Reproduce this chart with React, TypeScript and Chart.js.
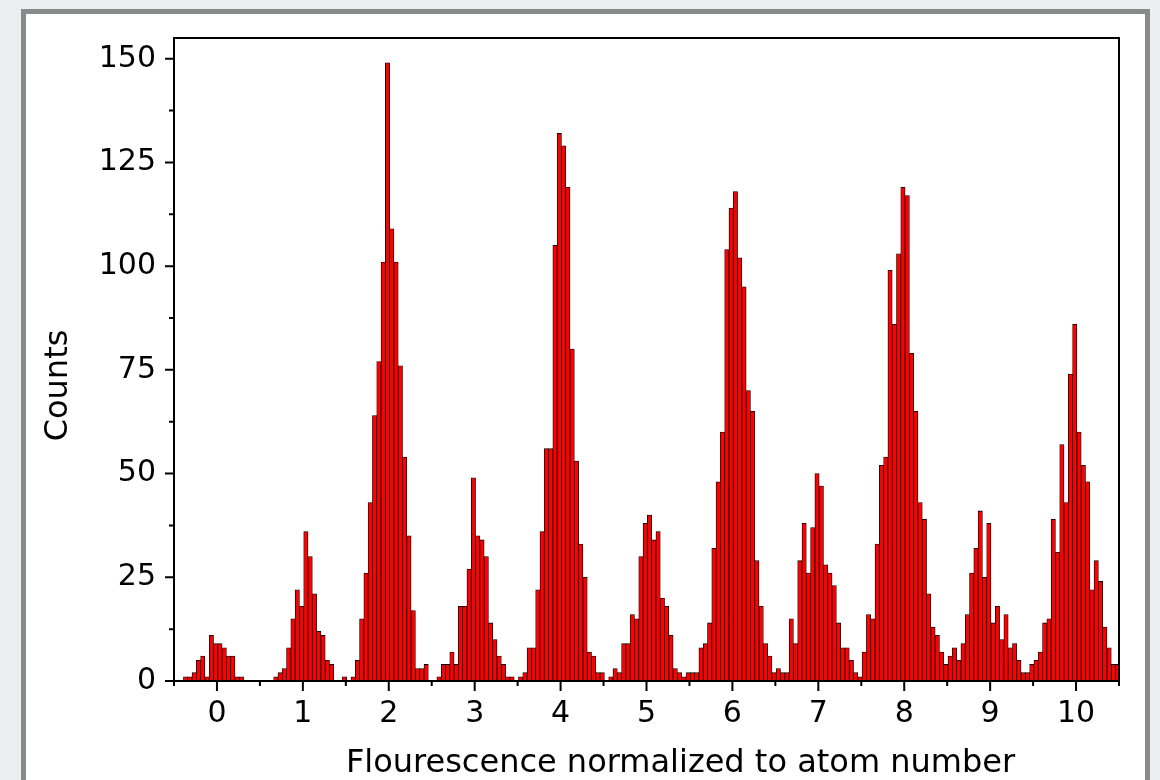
import React, { useEffect, useRef } from 'react';
import { Chart, registerables } from 'chart.js';

Chart.register(...registerables);

// Histogram bins: 0.05 wide, first bin starts near -0.5
const BIN_START = -0.49;
const BIN_WIDTH = 0.05;

// Counts per bin, grouped by the unit interval around each integer (20 bins each)
const countsNear0 = [0, 0, 1, 1, 2, 5, 6, 1, 11, 9, 9, 8, 6, 6, 1, 1, 0, 0, 0, 0];
const countsNear1 = [0, 0, 0, 1, 2, 3, 8, 15, 22, 18, 36, 30, 21, 12, 11, 5, 4, 0, 0, 1];
const countsNear2 = [0, 1, 5, 15, 26, 43, 64, 77, 101, 149, 109, 101, 76, 54, 35, 17, 3, 3, 4, 0];
const countsNear3 = [0, 1, 4, 4, 7, 4, 18, 18, 27, 49, 35, 34, 30, 14, 10, 6, 4, 1, 1, 0];
const countsNear4 = [1, 2, 8, 8, 22, 36, 56, 56, 105, 132, 129, 119, 80, 53, 33, 25, 7, 6, 2, 2];
const countsNear5 = [0, 1, 3, 2, 9, 9, 16, 15, 30, 38, 40, 34, 36, 20, 18, 11, 3, 2, 1, 2];
const countsNear6 = [2, 2, 8, 9, 14, 32, 48, 60, 104, 114, 118, 102, 95, 70, 65, 29, 18, 9, 6, 2];
const countsNear7 = [3, 2, 2, 15, 9, 29, 38, 26, 37, 50, 47, 28, 26, 23, 14, 8, 8, 5, 2, 1];
const countsNear8 = [7, 16, 15, 33, 52, 54, 99, 86, 103, 119, 117, 79, 65, 43, 39, 21, 13, 11, 7, 4];
const countsNear9 = [6, 8, 5, 9, 16, 26, 32, 41, 25, 38, 14, 18, 10, 16, 8, 9, 5, 2, 2, 4];
const countsNear10 = [5, 7, 14, 15, 39, 31, 57, 43, 74, 86, 60, 52, 48, 22, 29, 24, 13, 8, 4, 4];

const X_MIN = -0.5;
const X_MAX = 10.5;
const Y_MIN = 0;
const Y_MAX = 155;

const xTickValues = [0, 1, 2, 3, 4, 5, 6, 7, 8, 9, 10];
const xMinorTickValues = [-0.5, 0.5, 1.5, 2.5, 3.5, 4.5, 5.5, 6.5, 7.5, 8.5, 9.5, 10.5];
const yTickValues = [0, 25, 50, 75, 100, 125, 150];
const yMinorTickValues = [12.5, 37.5, 62.5, 87.5, 112.5, 137.5];

const xAxisTitle = 'Flourescence normalized to atom number';
const yAxisTitle = 'Counts';

const FONT = '"DejaVu Sans", "Liberation Sans", Arial, sans-serif';

const allCounts = [
  ...countsNear0, ...countsNear1, ...countsNear2, ...countsNear3, ...countsNear4, ...countsNear5,
  ...countsNear6, ...countsNear7, ...countsNear8, ...countsNear9, ...countsNear10,
];

const originAxesPlugin = {
  id: 'originAxes',
  afterDatasetsDraw(chart: any) {
    const { ctx, chartArea: a, scales } = chart;
    const x = scales.x;
    const y = scales.y;
    ctx.save();
    ctx.strokeStyle = '#000';
    ctx.lineWidth = 2;
    ctx.lineCap = 'butt';
    // frame
    ctx.strokeRect(a.left, a.top, a.right - a.left, a.bottom - a.top);
    ctx.beginPath();
    for (const v of yTickValues) {
      const py = y.getPixelForValue(v);
      ctx.moveTo(a.left - 9, py);
      ctx.lineTo(a.left, py);
    }
    for (const v of yMinorTickValues) {
      const py = y.getPixelForValue(v);
      ctx.moveTo(a.left - 5, py);
      ctx.lineTo(a.left, py);
    }
    for (const v of xTickValues) {
      const px = x.getPixelForValue(v);
      ctx.moveTo(px, a.bottom);
      ctx.lineTo(px, a.bottom + 10);
    }
    for (const v of xMinorTickValues) {
      const px = x.getPixelForValue(v);
      ctx.moveTo(px, a.bottom);
      ctx.lineTo(px, a.bottom + 5);
    }
    ctx.stroke();

    // axis titles
    ctx.fillStyle = '#000';
    ctx.font = `32px ${FONT}`;
    ctx.textAlign = 'center';
    ctx.textBaseline = 'alphabetic';
    ctx.fillText(xAxisTitle, (a.left + a.right) / 2 + 34, 772);
    ctx.translate(59, (a.top + a.bottom) / 2 + 26);
    ctx.rotate(-Math.PI / 2);
    ctx.textBaseline = 'middle';
    ctx.fillText(yAxisTitle, 0, 0);
    ctx.restore();
  },
};

export default function App() {
  const canvasRef = useRef<HTMLCanvasElement | null>(null);

  useEffect(() => {
    const canvas = canvasRef.current;
    if (!canvas) return;
    const points = allCounts.map((c, i) => ({ x: BIN_START + BIN_WIDTH * (i + 0.5), y: c }));
    const chart = new Chart(canvas, {
      type: 'bar',
      data: {
        datasets: [
          {
            data: points as any,
            backgroundColor: '#ff0000',
            borderColor: '#000000',
            borderWidth: 0.8,
            borderSkipped: false,
            barPercentage: 1,
            categoryPercentage: 1,
          },
        ],
      },
      options: {
        responsive: false,
        animation: false,
        devicePixelRatio: 1,
        layout: { padding: { top: 38, right: 41, bottom: 0, left: 0 } },
        plugins: {
          legend: { display: false },
          tooltip: { enabled: false },
          title: { display: false },
        },
        scales: {
          x: {
            type: 'linear',
            min: X_MIN,
            max: X_MAX,
            offset: false,
            grid: { display: false, drawTicks: false },
            border: { display: false },
            ticks: {
              color: '#000',
              font: { family: FONT, size: 30 },
              padding: 15,
              maxRotation: 0,
              autoSkip: false,
            },
            afterBuildTicks: (s: any) => {
              s.ticks = xTickValues.map((v) => ({ value: v }));
            },
            afterFit: (s: any) => {
              s.height = 99;
            },
          },
          y: {
            type: 'linear',
            min: Y_MIN,
            max: Y_MAX,
            grid: { display: false, drawTicks: false },
            border: { display: false },
            ticks: {
              color: '#000',
              font: { family: FONT, size: 30 },
              padding: 18,
              autoSkip: false,
            },
            afterBuildTicks: (s: any) => {
              s.ticks = yTickValues.map((v) => ({ value: v }));
            },
            afterFit: (s: any) => {
              s.width = 174;
            },
          },
        },
      } as any,
      plugins: [originAxesPlugin],
    });
    return () => chart.destroy();
  }, []);

  return (
    <div style={{ position: 'fixed', left: 0, top: 0, width: 1160, height: 780, background: '#eceef0', overflow: 'hidden' }}>
      <div
        style={{
          position: 'absolute',
          left: 21,
          top: 9,
          width: 1129,
          height: 820,
          boxSizing: 'border-box',
          border: '5px solid #878c8a',
          borderBottom: 'none',
          background: '#ffffff',
        }}
      />
      <canvas
        ref={canvasRef}
        width={1160}
        height={780}
        style={{ position: 'absolute', left: 0, top: 0, width: 1160, height: 780 }}
      />
    </div>
  );
}
